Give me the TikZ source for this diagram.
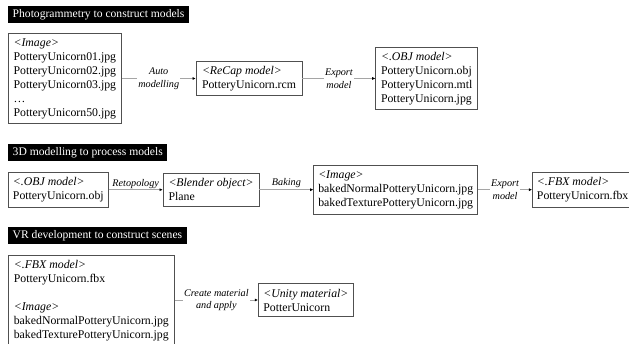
\documentclass[tikz,border=0pt]{standalone}
\usepackage{fontspec}
\setmainfont{Liberation Serif}
\usepackage{xcolor}
\usetikzlibrary{arrows.meta,positioning}
\definecolor{edge}{RGB}{80,80,80}
\definecolor{wire}{RGB}{165,165,165}
\tikzset{
  header/.style={fill=black,text=white,anchor=north west,inner xsep=4.5pt,
    inner ysep=3pt,font=\fontsize{11.6}{14}\selectfont},
  filebox/.style={draw=edge,line width=0.7pt,align=left,inner xsep=4.5pt,
    inner ysep=5pt,font=\fontsize{11.8}{14}\selectfont},
  flow/.style={wire,line width=0.7pt,-{Latex[length=3.2pt,width=3pt,color=black]}},
  steplabel/.style={font=\fontsize{10.2}{12.6}\selectfont\itshape,align=center,
    text=black,inner sep=1pt},
  cutlabel/.style={steplabel,fill=white}
}

\begin{document}
\begin{tikzpicture}[x=1pt,y=-1pt]
  \useasboundingbox[fill=white] (0,0) rectangle (629,344);
  % photogrammetry
  \node[header] (hphoto) at (8,6) {Photogrammetry to construct models};
  \node[filebox,anchor=north west,minimum width=113pt] (images) at (8,33)
    {\textit{<Image>}\\PotteryUnicorn01.jpg\\PotteryUnicorn02.jpg\\
    PotteryUnicorn03.jpg\\\ldots\\PotteryUnicorn50.jpg};
  \node[filebox,right=74pt of images,minimum width=106pt] (recap)
    {\textit{<ReCap model>}\\PotteryUnicorn.rcm};
  \node[filebox,right=73pt of recap,minimum width=102pt] (objmodel)
    {\textit{<.OBJ model>}\\PotteryUnicorn.obj\\PotteryUnicorn.mtl\\
    PotteryUnicorn.jpg};
  \draw[flow] (images) -- node[cutlabel] {Auto\\modelling} (recap);
  \draw[flow] (recap) -- node[cutlabel] {Export\\model} (objmodel);
  % 3D modelling
  \node[header] (hmodel) at (8,144) {3D modelling to process models};
  \node[filebox,anchor=north west,minimum width=100pt] (objin) at (8,172)
    {\textit{<.OBJ model>}\\PotteryUnicorn.obj};
  \node[filebox,right=54pt of objin,minimum width=96pt] (plane)
    {\textit{<Blender object>}\\Plane};
  \node[filebox,right=54pt of plane,minimum width=164pt] (baked)
    {\textit{<Image>}\\bakedNormalPotteryUnicorn.jpg\\
    bakedTexturePotteryUnicorn.jpg};
  \node[filebox,right=54pt of baked,minimum width=97pt] (fbxmodel)
    {\textit{<.FBX model>}\\PotteryUnicorn.fbx};
  \draw[flow] (objin) -- node[steplabel,above] {Retopology} (plane);
  \draw[flow] (plane) -- node[steplabel,above,yshift=1pt] {Baking} (baked);
  \draw[flow] (baked) -- node[cutlabel] {Export\\model} (fbxmodel);
  % VR development
  \node[header] (hvr) at (8,227) {VR development to construct scenes};
  \node[filebox,anchor=north west,minimum width=166pt] (assets) at (8,255)
    {\textit{<.FBX model>}\\PotteryUnicorn.fbx\\[14pt]\textit{<Image>}\\
    bakedNormalPotteryUnicorn.jpg\\bakedTexturePotteryUnicorn.jpg};
  \node[filebox,anchor=west,minimum width=95pt] (unitymat) at (258,300)
    {\textit{<Unity material>}\\PotterUnicorn};
  \draw[flow] (assets.east |- unitymat.west) -- node[cutlabel]
    {Create material\\and apply} (unitymat);
\end{tikzpicture}
\end{document}
